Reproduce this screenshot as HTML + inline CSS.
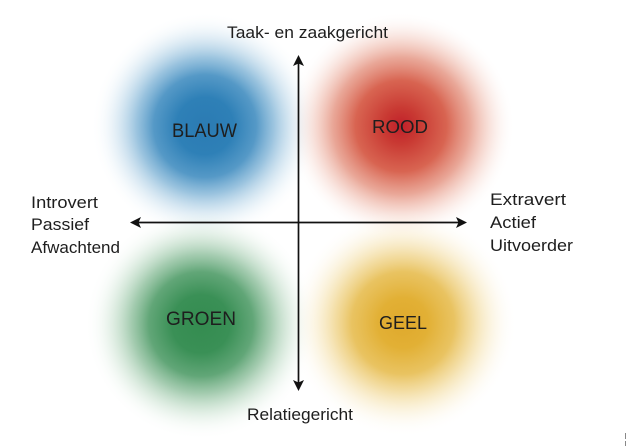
<!DOCTYPE html>
<html>
<head>
<meta charset="utf-8">
<style>
html,body{margin:0;padding:0;background:#fff;}
body{width:626px;height:446px;overflow:hidden;}
svg{display:block;}
text{font-family:"Liberation Sans",sans-serif;fill:#1e1e1e;}
</style>
</head>
<body>
<svg width="626" height="446" viewBox="0 0 626 446" xmlns="http://www.w3.org/2000/svg">
<defs>
<radialGradient id="gb" cx="0.5" cy="0.5" r="0.5">
<stop offset="0" stop-color="#2b7bb3" stop-opacity="1"/>
<stop offset="0.25" stop-color="#2e80b7" stop-opacity="1"/>
<stop offset="0.45" stop-color="#3e8bbf" stop-opacity="0.88"/>
<stop offset="0.6" stop-color="#5d9fcb" stop-opacity="0.62"/>
<stop offset="0.75" stop-color="#8dbcdb" stop-opacity="0.34"/>
<stop offset="0.88" stop-color="#c0dbec" stop-opacity="0.13"/>
<stop offset="1" stop-color="#ffffff" stop-opacity="0"/>
</radialGradient>
<radialGradient id="gr" cx="0.5" cy="0.5" r="0.5">
<stop offset="0" stop-color="#c1202a" stop-opacity="1"/>
<stop offset="0.16" stop-color="#c93a33" stop-opacity="1"/>
<stop offset="0.4" stop-color="#d65c48" stop-opacity="0.95"/>
<stop offset="0.6" stop-color="#de7a63" stop-opacity="0.66"/>
<stop offset="0.75" stop-color="#e89a85" stop-opacity="0.36"/>
<stop offset="0.88" stop-color="#f2c3b5" stop-opacity="0.14"/>
<stop offset="1" stop-color="#ffffff" stop-opacity="0"/>
</radialGradient>
<radialGradient id="gg" cx="0.5" cy="0.5" r="0.5">
<stop offset="0" stop-color="#348c50" stop-opacity="1"/>
<stop offset="0.25" stop-color="#3a9056" stop-opacity="1"/>
<stop offset="0.45" stop-color="#4c9a65" stop-opacity="0.88"/>
<stop offset="0.6" stop-color="#6cac7f" stop-opacity="0.62"/>
<stop offset="0.75" stop-color="#98c6a4" stop-opacity="0.34"/>
<stop offset="0.88" stop-color="#c8e2ce" stop-opacity="0.13"/>
<stop offset="1" stop-color="#ffffff" stop-opacity="0"/>
</radialGradient>
<radialGradient id="gy" cx="0.5" cy="0.5" r="0.5">
<stop offset="0" stop-color="#dfa92c" stop-opacity="1"/>
<stop offset="0.22" stop-color="#e2b035" stop-opacity="1"/>
<stop offset="0.45" stop-color="#e6bb4c" stop-opacity="0.88"/>
<stop offset="0.6" stop-color="#ecc96d" stop-opacity="0.62"/>
<stop offset="0.75" stop-color="#f2d996" stop-opacity="0.34"/>
<stop offset="0.88" stop-color="#f8e9c4" stop-opacity="0.13"/>
<stop offset="1" stop-color="#ffffff" stop-opacity="0"/>
</radialGradient>
</defs>

<circle cx="205" cy="126" r="114" fill="url(#gb)"/>
<circle cx="401" cy="126" r="114" fill="url(#gr)"/>
<circle cx="201" cy="324" r="116" fill="url(#gg)"/>
<circle cx="403" cy="323" r="114" fill="url(#gy)"/>

<!-- axes -->
<g stroke="#111" stroke-width="1.7" fill="none">
<line x1="298.5" y1="60" x2="298.5" y2="386"/>
<line x1="135" y1="222.5" x2="462" y2="222.5"/>
</g>
<g fill="#111">
<path d="M298.5 55 L304 66 L298.5 63.5 L293 66 Z"/>
<path d="M298.5 391 L304 380 L298.5 382.5 L293 380 Z"/>
<path d="M130 222.5 L141 217 L138.5 222.5 L141 228 Z"/>
<path d="M467 222.5 L456 217 L458.5 222.5 L456 228 Z"/>
</g>

<!-- axis labels -->
<text x="227" y="38" font-size="16.5" textLength="161" lengthAdjust="spacingAndGlyphs">Taak- en zaakgericht</text>
<text x="247" y="420" font-size="16.5" textLength="106" lengthAdjust="spacingAndGlyphs">Relatiegericht</text>

<text x="31" y="208" font-size="17" textLength="67" lengthAdjust="spacingAndGlyphs">Introvert</text>
<text x="31" y="230" font-size="17" textLength="58" lengthAdjust="spacingAndGlyphs">Passief</text>
<text x="31" y="253" font-size="17" textLength="89" lengthAdjust="spacingAndGlyphs">Afwachtend</text>

<text x="490" y="205" font-size="17" textLength="76" lengthAdjust="spacingAndGlyphs">Extravert</text>
<text x="490" y="228" font-size="17" textLength="46" lengthAdjust="spacingAndGlyphs">Actief</text>
<text x="490" y="251" font-size="17" textLength="83" lengthAdjust="spacingAndGlyphs">Uitvoerder</text>

<!-- quadrant labels -->
<text x="172" y="137" font-size="19" textLength="65" lengthAdjust="spacingAndGlyphs">BLAUW</text>
<text x="372" y="133" font-size="18.5" textLength="56" lengthAdjust="spacingAndGlyphs">ROOD</text>
<text x="166" y="325" font-size="19" textLength="70" lengthAdjust="spacingAndGlyphs">GROEN</text>
<text x="379" y="329" font-size="18.5" textLength="48" lengthAdjust="spacingAndGlyphs">GEEL</text>

<!-- corner mark -->
<g stroke="#888" stroke-width="1">
<line x1="625.5" y1="433" x2="625.5" y2="439"/>
<line x1="625.5" y1="441" x2="625.5" y2="446"/>
</g>
</svg>
</body>
</html>
